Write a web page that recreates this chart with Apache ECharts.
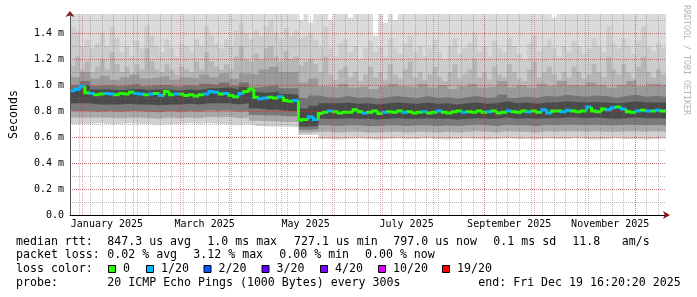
<!DOCTYPE html>
<html><head><meta charset="utf-8">
<script src="https://cdn.jsdelivr.net/npm/echarts@6/dist/echarts.min.js"></script>
<style>html,body{margin:0;padding:0;background:#fff}#c{width:697px;height:297px}</style>
</head><body><div id="c"></div>
<script>
// ---- time frame ----
const END = Date.UTC(2025, 11, 19, 16, 20, 20);
const SPAN_DAYS = 360;
const START = END - SPAN_DAYS * 864e5;
const MED_STEP = 3;     // days per median step
const YMAX = 1.546;     // ms

// ---- smoke band boundaries (ms). 120-value arrays = 3-day columns, 60-value arrays = 6-day columns ----
const smokeTop = [1.6,1.6,1.6,1.6,1.6,1.6,1.6,1.6,1.6,1.6, 1.6,1.6,1.6,1.6,1.6,1.6,1.6,1.6,1.6,1.6,
  1.6,1.6,1.6,1.6,1.6,1.6,1.6,1.6,1.6,1.6, 1.6,1.6,1.6,1.6,1.6,1.6,1.6,1.6,1.6,1.6,
  1.6,1.6,1.6,1.6,1.6,1.6,1.5,1.6,1.48,1.6, 1.6,1.6,1.5,1.6,1.6,1.6,1.52,1.6,1.6,1.6,
  1.6,1.38,1.6,1.48,1.6,1.5,1.6,1.6,1.6,1.6, 1.6,1.6,1.6,1.6,1.6,1.6,1.6,1.6,1.6,1.6,
  1.6,1.6,1.6,1.6,1.6,1.6,1.6,1.6,1.6,1.6, 1.6,1.6,1.6,1.6,1.6,1.6,1.6,1.52,1.6,1.6,
  1.6,1.6,1.6,1.6,1.6,1.6,1.6,1.6,1.6,1.6, 1.6,1.6,1.6,1.6,1.6,1.6,1.6,1.6,1.6,1.6];
const smokeU5 = [1.45,1.42,1.30,1.35,1.28,1.32,1.40,1.30,1.45,1.36, 1.25,1.30,1.22,1.34,1.28,1.46,1.38,1.30,1.25,1.35,
  1.28,1.22,1.32,1.30,1.26,1.35,1.30,1.45,1.38,1.32, 1.28,1.35,1.30,1.42,1.48,1.40,
  1.35,1.42,1.38,1.45,1.50,1.40,1.35,1.44,1.38,1.42,
  1.36,1.38,1.40,1.35,
  1.30,1.45,1.28,1.22,1.32,1.35,1.25,1.30,1.20,1.28, 1.34,1.25,1.30,1.22,1.36,1.28,1.24,1.32,1.38,1.26,
  1.30,1.22,1.28,1.35,1.25,1.20,1.30,1.36,1.24,1.28, 1.32,1.40,1.26,1.30,1.22,1.34,1.28,1.25,1.36,1.30,
  1.24,1.20,1.32,1.38,1.26,1.30,1.35,1.28,1.22,1.30, 1.26,1.34,1.30,1.24,1.28,1.36,1.30,1.25,1.45,1.32,
  1.28,1.36,1.30,1.24,1.34,1.45,1.30,1.26,1.32,1.28];
const smokeU4 = [1.15,1.22,1.12,1.18,1.10,1.14,1.20,1.12,1.25,1.16, 1.10,1.14,1.08,1.16,1.12,1.28,1.18,1.12,
  1.10,1.16,1.12,1.08,1.14,1.12,1.10,1.18,1.12,1.25, 1.18,1.14,1.12,1.16,1.12,1.22,1.30,1.20,
  1.18,1.24,1.20,1.28,1.30,1.22,1.18,1.26,1.20,1.22,
  1.15,1.18,1.20,1.16,
  1.10,1.22,1.08,1.04,1.12,1.14,1.06,1.10,1.03,1.08, 1.14,1.06,1.10,1.04,1.16,1.08,1.05,1.12,1.18,1.06,
  1.10,1.04,1.08,1.14,1.06,1.03,1.10,1.16,1.05,1.08, 1.12,1.20,1.06,1.10,1.04,1.14,1.08,1.06,1.16,1.10,
  1.05,1.03,1.12,1.18,1.06,1.10,1.14,1.08,1.04,1.10, 1.06,1.14,1.10,1.05,1.08,1.16,1.10,1.06,1.22,1.12,
  1.08,1.16,1.10,1.05,1.14,1.22,1.10,1.06,1.12,1.08];
const smokeU3 = [1.06,1.10,1.05,1.07,1.04,1.06,1.08,1.05,1.06,1.07,1.04,1.06,1.05,1.08,1.06,1.09,1.05,1.09,
  1.08,1.12,1.14,1.10,1.10,
  1.02,1.05,
  0.99,0.98,1.01,0.98,0.99,0.97,0.99,1.01,0.99,0.98,1.01,0.98,1.00,0.97,0.99,1.01,0.98,0.99,1.03,0.98,
  1.00,0.98,1.01,0.99,1.03,1.00,0.99,1.02,1.00,0.98,1.00,1.03,0.99,1.01,1.00];
const smokeU2 = [1.00,1.03,0.995,1.00,0.99,1.00,1.01,0.99,1.00,1.00,0.985,1.00,0.99,1.01,1.00,1.02,0.995,1.02,
  0.98,0.99,1.00,0.975,0.975,
  0.90,0.92,
  0.905,0.90,0.915,0.90,0.905,0.895,0.905,0.915,0.905,0.90,0.915,0.90,0.905,0.895,0.905,0.915,0.90,0.905,0.925,0.90,
  0.91,0.90,0.915,0.91,0.925,0.915,0.91,0.92,0.915,0.90,0.915,0.925,0.91,0.915,0.91];
const smokeU1 = [0.97,0.995,0.965,0.965,0.96,0.965,0.97,0.96,0.965,0.965,0.955,0.965,0.96,0.975,0.975,0.98,0.965,0.985,
  0.945,0.94,0.95,0.93,0.925,
  0.82,0.84,
  0.86,0.86,0.865,0.855,0.86,0.85,0.86,0.865,0.86,0.855,0.865,0.855,0.86,0.85,0.86,0.865,0.855,0.86,0.875,0.86,
  0.865,0.855,0.865,0.865,0.875,0.87,0.865,0.87,0.865,0.86,0.865,0.875,0.865,0.865,0.865];
const smokeL1 = [0.86,0.86,0.85,0.85,0.85,0.855,0.85,0.85,0.845,0.85,0.85,0.855,0.85,0.86,0.86,0.86,0.85,0.86,
  0.82,0.81,0.81,0.80,0.80,
  0.68,0.685,
  0.74,0.74,0.745,0.74,0.74,0.735,0.74,0.745,0.74,0.74,0.745,0.74,0.74,0.735,0.74,0.745,0.74,0.74,0.75,0.74,
  0.745,0.74,0.745,0.745,0.75,0.75,0.745,0.75,0.745,0.74,0.745,0.75,0.745,0.745,0.745];
const smokeL2 = [0.80,0.80,0.795,0.80,0.795,0.80,0.80,0.795,0.79,0.80,0.795,0.80,0.795,0.805,0.80,0.805,0.795,0.80,
  0.77,0.765,0.765,0.76,0.76,
  0.655,0.66,
  0.69,0.685,0.69,0.69,0.685,0.685,0.69,0.69,0.685,0.69,0.69,0.685,0.69,0.685,0.69,0.695,0.69,0.685,0.695,0.69,
  0.69,0.685,0.695,0.69,0.695,0.695,0.69,0.695,0.69,0.69,0.695,0.695,0.69,0.695,0.69];
const smokeL3 = [0.75,0.75,0.75,0.75,0.745,0.75,0.75,0.745,0.74,0.75,0.745,0.75,0.745,0.755,0.75,0.755,0.745,0.75,
  0.725,0.72,0.72,0.715,0.715,
  0.635,0.64,
  0.64,0.635,0.64,0.64,0.635,0.635,0.64,0.64,0.635,0.64,0.64,0.635,0.64,0.635,0.64,0.645,0.64,0.635,0.645,0.64,
  0.64,0.635,0.645,0.64,0.645,0.645,0.64,0.645,0.64,0.64,0.645,0.645,0.64,0.645,0.64];
const smokeMin = [0.70,0.70,0.705,0.70,0.70,0.705,0.70,0.70,0.695,0.70,0.70,0.705,0.70,0.705,0.70,0.70,0.695,0.70,
  0.685,0.68,0.68,0.68,0.675,
  0.615,0.62,
  0.585,0.58,0.585,0.59,0.585,0.58,0.585,0.59,0.585,0.585,0.59,0.585,0.58,0.585,0.59,0.585,0.58,0.585,0.59,0.585,
  0.585,0.58,0.59,0.585,0.585,0.59,0.585,0.58,0.585,0.59,0.585,0.585,0.58,0.585,0.59];

// ---- median rtt (ms), one value per 3-day step, and lost pings of 20 ----
const medianMs = [0.955,0.965,0.99,0.94,0.935,0.925,0.93,0.935,0.93,0.925,
  0.935,0.93,0.945,0.935,0.93,0.925,0.93,0.935,0.92,0.95,
  0.925,0.93,0.93,0.92,0.925,0.915,0.925,0.93,0.95,0.945,
  0.93,0.935,0.92,0.91,0.935,0.95,0.97,0.905,0.895,0.90,
  0.905,0.90,0.91,0.88,0.875,0.88,0.73,0.735,0.755,0.735,
  0.78,0.79,0.80,0.795,0.785,0.79,0.79,0.81,0.795,0.785,
  0.79,0.80,0.78,0.79,0.795,0.79,0.80,0.79,0.795,0.785,
  0.79,0.795,0.785,0.79,0.80,0.79,0.785,0.795,0.80,0.79,
  0.795,0.79,0.80,0.79,0.795,0.80,0.785,0.79,0.80,0.795,
  0.79,0.80,0.795,0.80,0.79,0.81,0.785,0.80,0.80,0.795,
  0.805,0.80,0.795,0.80,0.83,0.80,0.795,0.815,0.81,0.825,
  0.83,0.815,0.795,0.79,0.80,0.805,0.80,0.80,0.805,0.80];
const lossCount = [1,1,1,0,1,0,0,1,1,0, 0,0,0,1,1,0,1,0,1,0,
  0,1,0,0,0,0,0,1,1,1, 0,1,0,0,1,0,0,0,1,1,
  0,0,1,0,0,1,0,0,1,1, 0,0,1,0,0,0,0,0,0,1,
  0,0,0,1,0,0,0,1,0,0, 0,1,0,0,1,0,0,0,0,1,
  0,0,0,0,1,0,0,0,1,0, 0,0,1,0,0,1,1,0,0,1,
  1,0,0,0,1,0,0,0,1,1, 0,1,0,0,1,0,1,0,1,0];

// ---- loss colours ----
const lossLevels = [0, 1, 2, 3, 4, 10, 19];
const lossLabels = ['0', '1/20', '2/20', '3/20', '4/20', '10/20', '19/20'];
const lossColors = ['#26ff00', '#00b8ff', '#0059ff', '#5e00ff', '#7e00ff', '#dd00ff', '#ff0000'];

// ---- tick labels ----
const yTickLabels = ['0.0', '0.2 m', '0.4 m', '0.6 m', '0.8 m', '1.0 m', '1.2 m', '1.4 m'];
const xTickLabels = ['January 2025', 'March 2025', 'May 2025', 'July 2025', 'September 2025', 'November 2025'];
const xTickMonths = [0, 2, 4, 6, 8, 10];

// ---- legend texts ----
const statRtt = [['median rtt:', 16], ['847.3 us avg', 107.3], ['1.0 ms max', 207.3], ['727.1 us min', 294],
  ['797.0 us now', 393.3], ['0.1 ms sd', 493.3], ['11.8', 572.3], ['am/s', 621.7]];
const statLoss = [['packet loss:', 16], ['0.02 % avg', 107.3], ['3.12 % max', 193.3], ['0.00 % min', 279.3], ['0.00 % now', 365]];
const lossKeyX = [108, 146, 203.5, 261.5, 320, 378, 442];
const probeText = [['probe:', 16], ['20 ICMP Echo Pings (1000 Bytes) every 300s', 107.3], ['end: Fri Dec 19 16:20:20 2025', 478.3]];

// ---- helpers ----
const dayOf = ms => (ms - START) / 864e5;
const monthStarts = [];
for (let m = 0; m < 12; m++) monthStarts.push(dayOf(Date.UTC(2025, m, 1)));
const weekStarts = [];
for (let t = Date.UTC(2024, 11, 30); t < END; t += 7 * 864e5) weekStarts.push(dayOf(t));
const xLabelPos = xTickMonths.map(m => dayOf(Date.UTC(2025, m, 1)) + 15);

function lossColor(l) {
  let c = lossColors[0];
  for (let i = 0; i < lossLevels.length; i++) if (l >= lossLevels[i]) c = lossColors[i];
  return c;
}
function stepData(arr) {
  const step = SPAN_DAYS / arr.length;
  const d = arr.map((v, i) => [i * step, v]);
  d.push([SPAN_DAYS, arr[arr.length - 1]]);
  return d;
}
const MONO = '"DejaVu Sans Mono", monospace';

const bands = [
  [smokeTop, '#dbdbdb'], [smokeU5, '#cccccc'], [smokeU4, '#b6b6b6'], [smokeU3, '#9a9a9a'],
  [smokeU2, '#747474'], [smokeU1, '#4a4a4a'], [smokeL1, '#7a7a7a'], [smokeL2, '#a9a9a9'],
  [smokeL3, '#d0d0d0'], [smokeMin, '#ffffff']
];
const series = bands.map(([arr, col]) => ({
  type: 'line', data: stepData(arr), step: 'end', symbol: 'none', showSymbol: false,
  lineStyle: { width: 0 }, areaStyle: { color: col, opacity: 1, origin: 'start' },
  silent: true, z: 2, xAxisIndex: 0, yAxisIndex: 1, clip: true
}));

const gridDotMinor = { color: 'rgba(110,110,110,0.45)', type: [1, 1], width: 1 };
const gridDotMajor = { color: 'rgba(225,30,30,0.42)', type: [1, 1], width: 1 };

series.push({
  type: 'line', data: [], z: 3, silent: true, xAxisIndex: 0, yAxisIndex: 1,
  markLine: {
    silent: true, symbol: ['none', 'none'], label: { show: false }, animation: false,
    data: weekStarts.map(d => ({ xAxis: d, lineStyle: gridDotMinor }))
      .concat(monthStarts.map(d => ({ xAxis: d, lineStyle: gridDotMajor })))
  }
});

series.push({
  type: 'custom', z: 4, silent: true, xAxisIndex: 0, yAxisIndex: 1, clip: true,
  data: medianMs.map((v, i) => [i * MED_STEP, (i + 1) * MED_STEP, v, i > 0 ? medianMs[i - 1] : v, lossCount[i]]),
  encode: { x: [0, 1], y: [2, 3] },
  renderItem: function (params, api) {
    const t0 = api.value(0), t1 = api.value(1), v = api.value(2), pv = api.value(3), l = api.value(4);
    const a = api.coord([t0, pv]), b = api.coord([t0, v]), c = api.coord([t1, v]);
    return { type: 'polyline', shape: { points: [a, b, c] }, style: { stroke: lossColor(l), lineWidth: 3, fill: null } };
  }
});

// ---- graphic texts ----
const graphics = [];
function addText(txt, x, y, opts) {
  graphics.push({ type: 'text', x: x, y: y, silent: true,
    style: Object.assign({ text: txt, fill: '#000', fontFamily: MONO, fontSize: 11.6, textVerticalAlign: 'middle', textAlign: 'left' }, opts || {}) });
}
statRtt.forEach(([t, x]) => addText(t, x, 241.5));
statLoss.forEach(([t, x]) => addText(t, x, 255.3));
addText('loss color:', 16, 269);
lossKeyX.forEach((x, i) => {
  graphics.push({ type: 'rect', silent: true, shape: { x: x + 0.5, y: 265.5, width: 7, height: 7 },
    style: { fill: lossColors[i], stroke: '#000', lineWidth: 1 } });
  addText(lossLabels[i], x + 15, 269);
});
probeText.forEach(([t, x]) => addText(t, x, 282.7));
graphics.push({ type: 'text', x: 686.5, y: 5, rotation: -Math.PI / 2, silent: true,
  style: { text: 'RRDTOOL / TOBI OETIKER', fill: '#b4b4b4', fontFamily: MONO, fontSize: 8.3, textAlign: 'left', textVerticalAlign: 'middle' } });

const chart = echarts.init(document.getElementById('c'), null, { renderer: 'canvas' });
chart.setOption({
  animation: false,
  backgroundColor: '#fff',
  grid: { left: 66, top: 14, width: 600, height: 201 },
  xAxis: [
    { type: 'value', min: 0, max: SPAN_DAYS, position: 'bottom', z: 5,
      axisLine: { show: true, lineStyle: { color: '#000', width: 1 } },
      axisTick: { show: false }, splitLine: { show: false },
      axisLabel: { customValues: xLabelPos, margin: 4, fontFamily: MONO, fontSize: 10, color: '#000', hideOverlap: false,
        formatter: v => { const i = xLabelPos.findIndex(p => Math.abs(p - v) < 1e-6); return i >= 0 ? xTickLabels[i] : ''; } } },
    { type: 'value', min: 0, max: SPAN_DAYS, position: 'bottom', z: 6,
      axisLine: { show: true, symbol: ['none', 'arrow'], symbolSize: [6, 7], symbolOffset: [0, 4], lineStyle: { color: '#8b1414', width: 0 } },
      axisTick: { show: false }, axisLabel: { show: false }, splitLine: { show: false } }
  ],
  yAxis: [
    { type: 'value', min: 0, max: YMAX, interval: 0.1, position: 'left', z: 3,
      axisLine: { show: true, symbol: ['none', 'arrow'], symbolSize: [7, 6], symbolOffset: [0, 3], lineStyle: { color: '#8b1414', width: 0 } },
      axisTick: { show: false }, axisLabel: { show: false },
      splitLine: { show: true, showMinLine: false, showMaxLine: false, lineStyle: gridDotMinor } },
    { type: 'value', min: 0, max: YMAX, interval: 0.2, position: 'left', z: 4,
      axisLine: { show: true, lineStyle: { color: '#555', width: 1 } },
      axisTick: { show: false },
      axisLabel: { margin: 6, fontFamily: MONO, fontSize: 10, color: '#000', showMaxLabel: false,
        formatter: v => { const i = Math.round(v / 0.2); return Math.abs(v - i * 0.2) < 1e-6 ? (yTickLabels[i] || '') : ''; } },
      splitLine: { show: true, showMinLine: false, showMaxLine: false, lineStyle: gridDotMajor },
      name: 'Seconds', nameLocation: 'middle', nameRotate: 90, nameGap: 50,
      nameTextStyle: { fontFamily: MONO, fontSize: 11.6, color: '#000' } }
  ],
  series: series,
  graphic: graphics
});
</script>
</body></html>
